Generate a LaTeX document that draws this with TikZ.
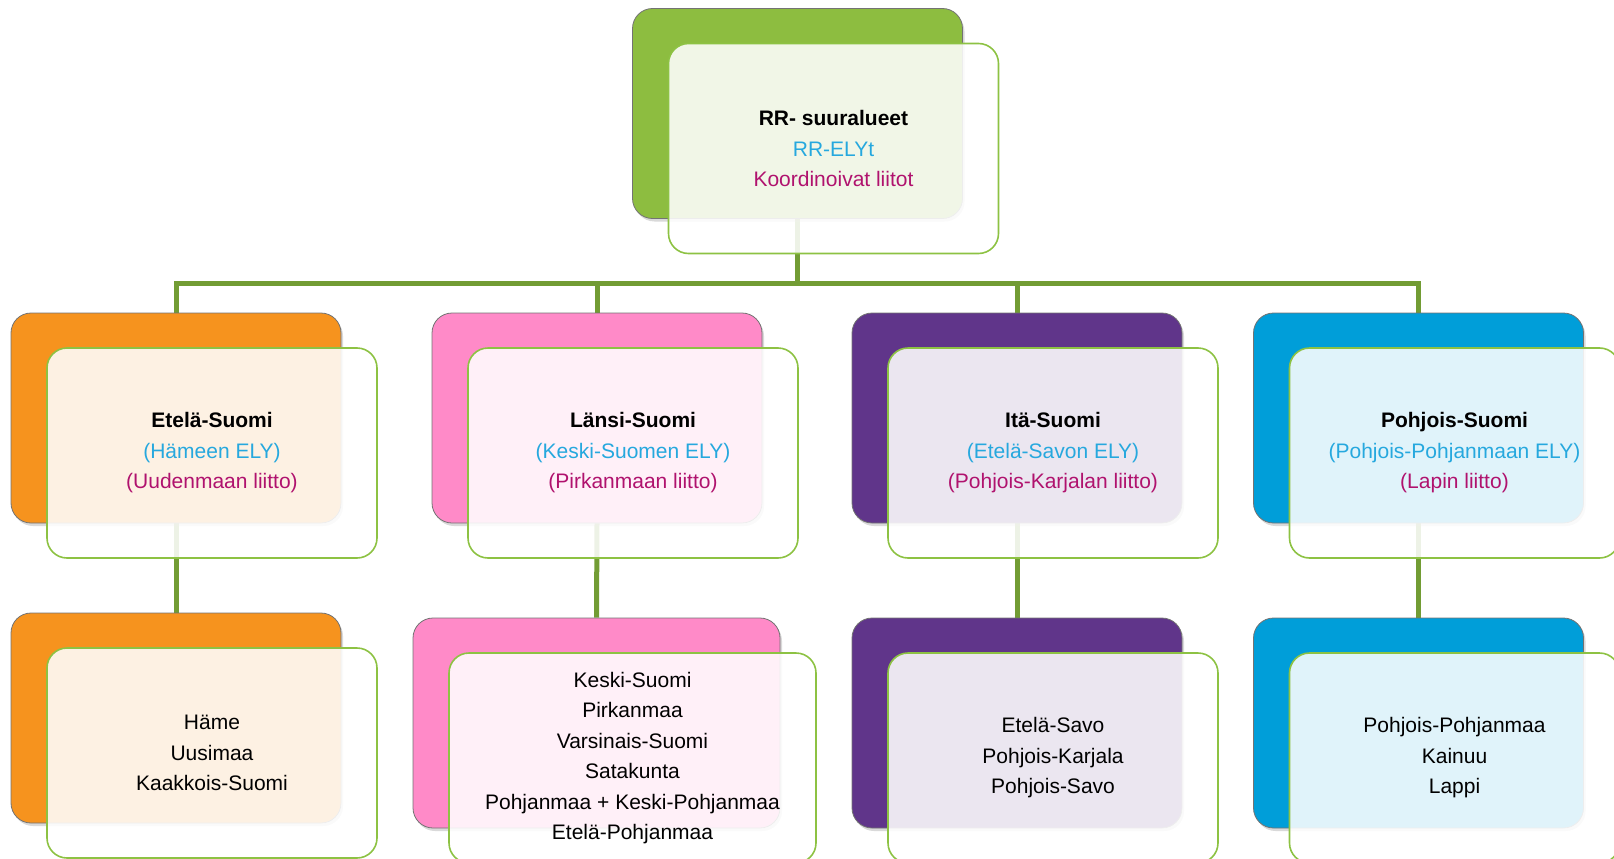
\documentclass[tikz,border=0pt]{standalone}
\usepackage{fontspec}
\setmainfont{Liberation Sans}
\usetikzlibrary{shadows,backgrounds}
\definecolor{rrgreen}{RGB}{141,189,64}
\definecolor{linegreen}{RGB}{114,156,52}
\definecolor{cardline}{RGB}{141,194,67}
\definecolor{etelaorange}{RGB}{246,147,30}
\definecolor{lansipink}{RGB}{255,138,200}
\definecolor{itapurple}{RGB}{96,53,138}
\definecolor{pohjblue}{RGB}{0,158,217}
\definecolor{elyblue}{RGB}{38,168,222}
\definecolor{liitto}{RGB}{176,18,110}

\begin{document}
\begin{tikzpicture}[x=1pt,y=-1pt,
  back/.style={rounded corners=20pt,minimum width=330pt,minimum height=210pt,
    draw=black!55,line width=0.8pt,
    drop shadow={shadow xshift=2pt,shadow yshift=-3pt,opacity=0.3}},
  front/.style={rounded corners=20pt,minimum width=330pt,minimum height=210pt,
    draw=cardline,line width=1.6pt,fill=white,fill opacity=0.88,text opacity=1,
    align=center,font=\fontsize{21}{30.5}\selectfont},
  conn/.style={draw=linegreen,line width=5pt}]
\useasboundingbox (0,0) rectangle (1614,859);
\clip (0,0) rectangle (1614,859);
% top card
\node[back,fill=rrgreen] (rr) at (797.5,113.5) {};
\node[front] (rr-txt) at ([shift={(36,35)}]rr.center)
  {\bfseries RR- suuralueet\\ \textcolor{elyblue}{RR-ELYt}\\ \textcolor{liitto}{Koordinoivat liitot}};
% suuralueet
\node[back,fill=etelaorange] (etela) at (176,418) {};
\node[front] (etela-txt) at ([shift={(36,35)}]etela.center)
  {\bfseries Etelä-Suomi\\ \textcolor{elyblue}{(Hämeen ELY)}\\ \textcolor{liitto}{(Uudenmaan liitto)}};
\node[back,fill=lansipink] (lansi) at (597,418) {};
\node[front] (lansi-txt) at ([shift={(36,35)}]lansi.center)
  {\bfseries Länsi-Suomi\\ \textcolor{elyblue}{(Keski-Suomen ELY)}\\ \textcolor{liitto}{(Pirkanmaan liitto)}};
\node[back,fill=itapurple] (ita) at (1017,418) {};
\node[front] (ita-txt) at ([shift={(36,35)}]ita.center)
  {\bfseries Itä-Suomi\\ \textcolor{elyblue}{(Etelä-Savon ELY)}\\ \textcolor{liitto}{(Pohjois-Karjalan liitto)}};
\node[back,fill=pohjblue] (pohjoinen) at (1418.5,418) {};
\node[front] (pohjoinen-txt) at ([shift={(36,35)}]pohjoinen.center)
  {\bfseries Pohjois-Suomi\\ \textcolor{elyblue}{(Pohjois-Pohjanmaan ELY)}\\ \textcolor{liitto}{(Lapin liitto)}};
% maakunnat
\node[back,fill=etelaorange] (etelamk) at (176,718) {};
\node[front] (etelamk-txt) at ([shift={(36,35)}]etelamk.center)
  {Häme\\ Uusimaa\\ Kaakkois-Suomi};
\node[back,fill=lansipink,minimum width=367pt] (lansimk) at (596.5,723) {};
\node[front,minimum width=367pt] (lansimk-txt) at ([shift={(36,35)}]lansimk.center)
  {Keski-Suomi\\ Pirkanmaa\\ Varsinais-Suomi\\ Satakunta\\ Pohjanmaa + Keski-Pohjanmaa\\ Etelä-Pohjanmaa};
\node[back,fill=itapurple] (itamk) at (1017,723) {};
\node[front] (itamk-txt) at ([shift={(36,35)}]itamk.center)
  {Etelä-Savo\\ Pohjois-Karjala\\ Pohjois-Savo};
\node[back,fill=pohjblue] (pohjoinenmk) at (1418.5,723) {};
\node[front] (pohjoinenmk-txt) at ([shift={(36,35)}]pohjoinenmk.center)
  {Pohjois-Pohjanmaa\\ Kainuu\\ Lappi};
% connectors
\begin{scope}[on background layer]
\coordinate (bus) at (798,283);
\foreach \col in {etela,lansi,ita,pohjoinen}{
  \draw[conn] (rr.south) -- (rr.south |- bus) -| (\col.north);
  \draw[conn] (\col.south) -- (\col mk.north);
}
\end{scope}
\end{tikzpicture}
\end{document}
